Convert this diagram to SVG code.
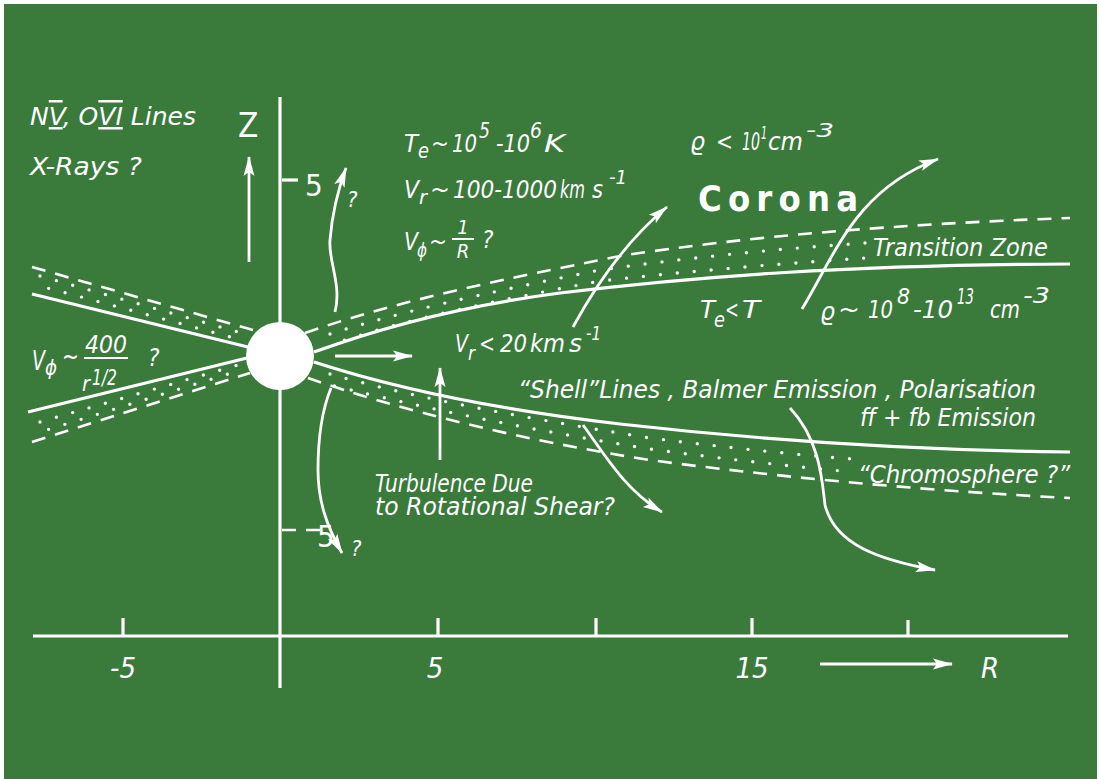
<svg xmlns="http://www.w3.org/2000/svg" width="1100" height="779" viewBox="0 0 1100 779">
<defs>
<style>
.t{fill:#fff;font-family:"DejaVu Sans Condensed","DejaVu Sans",sans-serif;font-style:italic}
.s{fill:none;stroke:#fff;stroke-width:3.2}
.d{fill:none;stroke:#fff;stroke-width:2.6;stroke-dasharray:14 10}
.p{fill:none;stroke:#fff;stroke-width:3.4;stroke-linecap:round;stroke-dasharray:0 17}
.a{fill:none;stroke:#fff;stroke-width:2.8}
</style>
<marker id="ah" viewBox="-20 -6 22 12" refX="0" refY="0" markerWidth="22" markerHeight="12" markerUnits="userSpaceOnUse" orient="auto">
<path d="M1,0 L-19,-5.5 L-15,0 L-19,5.5 Z" fill="#fff"/>
</marker>
</defs>
<rect width="1100" height="779" fill="#fff"/>
<rect x="4" y="4" width="1093" height="775" fill="#3a7a3a"/>

<g id="axes">
<line class="s" x1="280" y1="97" x2="280" y2="688"/>
<line class="s" x1="33" y1="636" x2="1068" y2="636"/>
<path class="s" d="M123,618V636M438,618V636M596,618V636M752,618V636M908,620V636"/>
<line class="s" x1="282" y1="180" x2="298" y2="180" stroke-width="2.5"/>
<line class="d" x1="282" y1="530" x2="322" y2="530" stroke-dasharray="10 6"/>
<text class="t" x="238" y="137" font-size="33" style="font-style:normal">Z</text>
<text class="t" x="305" y="196" font-size="31" style="font-style:normal">5</text>
<text class="t" x="317" y="547" font-size="31" style="font-style:normal">5</text>
<text class="t" x="123" y="678" font-size="29" text-anchor="middle">-5</text>
<text class="t" x="435" y="678" font-size="29" text-anchor="middle">5</text>
<text class="t" x="752" y="678" font-size="29" text-anchor="middle">15</text>
<text class="t" x="990" y="678" font-size="29" text-anchor="middle">R</text>
</g>

<g id="disk">
<path class="s" d="M314,352 C380,328 460,306 560,293 C700,276 850,265 1070,264"/>
<path class="d" d="M305,333 C400,300 500,280 620,256 C750,236 900,224 1070,218"/>
<path class="s" d="M314,362 C400,390 500,410 620,424 C760,440 900,450 1070,452"/>
<path class="d" d="M308,378 C400,410 520,440 650,460 C800,480 950,492 1070,498"/>
<path class="s" d="M32,294 L248,347"/>
<path class="d" d="M32,267 L253,330"/>
<path class="s" d="M28,412 L247,358"/>
<path class="d" d="M32,442 L250,373"/>
<path class="p" d="M330,334 C400,312 480,294 600,270 C700,256 790,248 866,243"/>
<path class="p" stroke-dashoffset="8" d="M336,343 C410,318 500,300 600,281 C700,270 790,263 866,258"/>
<path class="p" d="M330,374 C400,394 500,414 650,438 C730,448 800,455 852,459"/>
<path class="p" stroke-dashoffset="8" d="M326,384 C400,402 500,425 650,449 C730,460 800,467 852,472"/>
<path class="p" d="M40,276 L238,332"/>
<path class="p" stroke-dashoffset="8" d="M40,286 L238,339"/>
<path class="p" d="M40,422 L238,365"/>
<path class="p" stroke-dashoffset="8" d="M40,432 L238,371"/>
</g>

<g id="star">
<circle cx="280" cy="356" r="34" fill="#fff"/>
</g>

<g id="connectors">
<path class="a" d="M249,262 L249,157" marker-end="url(#ah)"/>
<path class="a" d="M335,312 C342,285 328,260 330,240 C332,215 336,195 346,168" marker-end="url(#ah)"/>
<path class="a" d="M331,388 C322,410 318,440 318,470 C318,500 326,525 342,553" marker-end="url(#ah)"/>
<path class="a" d="M335,356 L412,356" marker-end="url(#ah)"/>
<path class="a" d="M440,460 L440,368" marker-end="url(#ah)"/>
<path class="a" d="M573,327 Q615,250 667,207" marker-end="url(#ah)"/>
<path class="a" d="M802,309 C835,255 855,190 938,159" marker-end="url(#ah)"/>
<path class="a" d="M583,425 C605,455 625,490 662,512" marker-end="url(#ah)"/>
<path class="a" d="M790,408 C820,440 822,480 825,505 C835,545 880,560 935,570" marker-end="url(#ah)"/>
<path class="a" d="M820,664 L952,664" marker-end="url(#ah)"/>
</g>

<g id="labels">
<text class="t" x="30" y="125" font-size="25" textLength="166" lengthAdjust="spacingAndGlyphs">N<tspan style="text-decoration:underline overline">V</tspan>, O<tspan style="text-decoration:underline overline">VI</tspan> Lines</text>
<text class="t" x="30" y="175" font-size="25" textLength="112" lengthAdjust="spacingAndGlyphs">X-Rays ?</text>
<text class="t" x="347" y="207" font-size="22">?</text>
<text class="t" x="351" y="556" font-size="22">?</text>

<g id="te" class="t" font-size="25">
<text x="404" y="152" textLength="14" lengthAdjust="spacingAndGlyphs">T</text>
<text x="418" y="158" font-size="21" textLength="11" lengthAdjust="spacingAndGlyphs">e</text>
<text x="431" y="152" textLength="18" lengthAdjust="spacingAndGlyphs">~</text>
<text x="452" y="152" textLength="25" lengthAdjust="spacingAndGlyphs">10</text>
<text x="479" y="138" font-size="21" textLength="11" lengthAdjust="spacingAndGlyphs">5</text>
<text x="496" y="152" textLength="34" lengthAdjust="spacingAndGlyphs">-10</text>
<text x="530" y="138" font-size="21" textLength="12" lengthAdjust="spacingAndGlyphs">6</text>
<text x="544" y="152" textLength="21" lengthAdjust="spacingAndGlyphs">K</text>
</g>

<g id="vr" class="t" font-size="25">
<text x="404" y="198" textLength="15" lengthAdjust="spacingAndGlyphs">V</text>
<text x="419" y="204" font-size="19" textLength="8" lengthAdjust="spacingAndGlyphs">r</text>
<text x="430" y="198" textLength="20" lengthAdjust="spacingAndGlyphs">~</text>
<text x="453" y="198" textLength="104" lengthAdjust="spacingAndGlyphs">100-1000</text>
<text x="560" y="198" textLength="25" lengthAdjust="spacingAndGlyphs">km</text>
<text x="592" y="198" textLength="11" lengthAdjust="spacingAndGlyphs">s</text>
<text x="609" y="184" font-size="19" textLength="18" lengthAdjust="spacingAndGlyphs">-1</text>
</g>

<g id="vphi" class="t" font-size="25">
<text x="404" y="250" textLength="14" lengthAdjust="spacingAndGlyphs">V</text>
<text x="417" y="257" font-size="19" textLength="10" lengthAdjust="spacingAndGlyphs">ϕ</text>
<text x="429" y="250" textLength="18" lengthAdjust="spacingAndGlyphs">~</text>
<text x="463" y="234" font-size="20" text-anchor="middle">1</text>
<text x="463" y="258" font-size="20" text-anchor="middle">R</text>
<text x="482" y="248" font-size="24">?</text>
</g>
<line x1="452" y1="239" x2="474" y2="239" stroke="#fff" stroke-width="2"/>

<g id="rho1" class="t" font-size="25">
<text x="690" y="150" textLength="15" lengthAdjust="spacingAndGlyphs">ϱ</text>
<text x="716" y="150" textLength="17" lengthAdjust="spacingAndGlyphs">&lt;</text>
<text x="742" y="150" textLength="18" lengthAdjust="spacingAndGlyphs">10</text>
<text x="761" y="139" font-size="17" textLength="6" lengthAdjust="spacingAndGlyphs">1</text>
<text x="768" y="150" textLength="35" lengthAdjust="spacingAndGlyphs">cm</text>
<text x="806" y="137" font-size="20" textLength="28" lengthAdjust="spacingAndGlyphs">-3</text>
</g>

<text class="t" x="698" y="211" font-size="36" font-weight="bold" style="font-style:normal" textLength="160" lengthAdjust="spacing">Corona</text>
<text class="t" x="873" y="256" font-size="24" textLength="175" lengthAdjust="spacingAndGlyphs">Transition Zone</text>

<g id="tet" class="t" font-size="25">
<text x="700" y="318" textLength="15" lengthAdjust="spacingAndGlyphs">T</text>
<text x="714" y="327" font-size="21" textLength="11" lengthAdjust="spacingAndGlyphs">e</text>
<text x="725" y="318" textLength="14" lengthAdjust="spacingAndGlyphs">&lt;</text>
<text x="742" y="318" textLength="18" lengthAdjust="spacingAndGlyphs">T</text>
</g>

<g id="rho2" class="t" font-size="25">
<text x="820" y="320" textLength="15" lengthAdjust="spacingAndGlyphs">ϱ</text>
<text x="838" y="318" textLength="22" lengthAdjust="spacingAndGlyphs">~</text>
<text x="868" y="318" textLength="25" lengthAdjust="spacingAndGlyphs">10</text>
<text x="897" y="304" font-size="21" textLength="13" lengthAdjust="spacingAndGlyphs">8</text>
<text x="913" y="318" textLength="40" lengthAdjust="spacingAndGlyphs">-10</text>
<text x="957" y="304" font-size="21" textLength="17" lengthAdjust="spacingAndGlyphs">13</text>
<text x="990" y="318" textLength="30" lengthAdjust="spacingAndGlyphs">cm</text>
<text x="1023" y="303" font-size="21" textLength="27" lengthAdjust="spacingAndGlyphs">-3</text>
</g>

<g id="vr2" class="t" font-size="25">
<text x="455" y="352" textLength="13" lengthAdjust="spacingAndGlyphs">V</text>
<text x="468" y="360" font-size="19" textLength="7" lengthAdjust="spacingAndGlyphs">r</text>
<text x="479" y="352" textLength="16" lengthAdjust="spacingAndGlyphs">&lt;</text>
<text x="500" y="352" textLength="27" lengthAdjust="spacingAndGlyphs">20</text>
<text x="530" y="352" textLength="35" lengthAdjust="spacingAndGlyphs">km</text>
<text x="569" y="352" textLength="13" lengthAdjust="spacingAndGlyphs">s</text>
<text x="586" y="340" font-size="19" textLength="15" lengthAdjust="spacingAndGlyphs">-1</text>
</g>

<text class="t" x="518" y="398" font-size="24" textLength="518" lengthAdjust="spacingAndGlyphs">“Shell”Lines , Balmer Emission , Polarisation</text>
<text class="t" x="860" y="426" font-size="24" textLength="176" lengthAdjust="spacingAndGlyphs">ff + fb Emission</text>
<text class="t" x="375" y="492" font-size="24" textLength="158" lengthAdjust="spacingAndGlyphs">Turbulence Due</text>
<text class="t" x="375" y="515" font-size="24" textLength="240" lengthAdjust="spacingAndGlyphs">to Rotational Shear?</text>
<text class="t" x="858" y="483" font-size="24" textLength="212" lengthAdjust="spacingAndGlyphs">“Chromosphere ?”</text>

<g id="vphi2" class="t" font-size="26">
<text x="32" y="370" textLength="13" lengthAdjust="spacingAndGlyphs">V</text>
<text x="45" y="375" font-size="22" textLength="12" lengthAdjust="spacingAndGlyphs">ϕ</text>
<text x="62" y="365" textLength="17" lengthAdjust="spacingAndGlyphs">~</text>
<text x="85" y="353" font-size="24" textLength="42" lengthAdjust="spacingAndGlyphs">400</text>
<text x="82" y="391" font-size="21" textLength="8" lengthAdjust="spacingAndGlyphs">r</text>
<text x="92" y="385" font-size="22" textLength="25" lengthAdjust="spacingAndGlyphs">1/2</text>
<text x="148" y="366" font-size="24">?</text>
</g>
<line x1="84" y1="358" x2="128" y2="358" stroke="#fff" stroke-width="2"/>
</g>
</svg>
